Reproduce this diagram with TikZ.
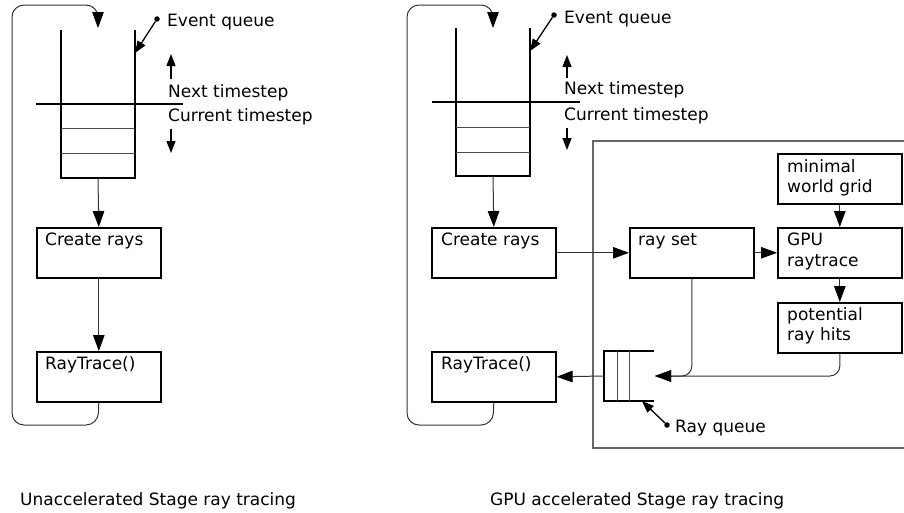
\documentclass[tikz,border=0pt]{standalone}
\usepackage{fontspec}
\setmainfont{DejaVu Sans}
\usetikzlibrary{arrows.meta}
\begin{document}
\begin{tikzpicture}[x=1pt,y=-1pt,
  box/.style={draw=black, line width=1.6pt, minimum width=124pt, minimum height=50pt, inner sep=0pt, anchor=north west},
  txt/.style={anchor=base west, inner sep=0pt, font=\fontsize{17}{20}\selectfont},
  conn/.style={draw=black!80, line width=1pt},
  arr/.style={conn, -{Triangle[length=16pt,width=11.5pt,color=black]}},
  sarr/.style={draw=black, line width=1.3pt, -{Triangle[length=12pt,width=9pt]}},
  dot/.style={circle, fill=black, inner sep=0pt, minimum size=5.5pt},
  qline/.style={draw=black, line width=1.6pt},
  cell/.style={draw=black!70, line width=1pt},
  bigbox/.style={draw=black!60, line width=1.1pt}
]
\useasboundingbox (0,0) rectangle (904,512);

% ---------------- left diagram ----------------
\node[box] (cr1) at (36,227) {};
\node[txt] (cr1t) at (45,245) {Create rays};
\node[box] (rt1) at (36,351) {};
\node[txt] (rt1t) at (45,369) {RayTrace()};

\draw[qline] (61,30) -- (61,178) -- (135,178) -- (135,30);
\draw[qline] (36,104) -- (183,104);
\draw[cell] (61,128) -- (135,128) (61,153) -- (135,153);
\coordinate (q1top) at (98,28);
\coordinate (q1bot) at (98,178);
\coordinate (l1end) at (98,12);

\draw[arr] (q1bot) -- (cr1.north);
\draw[arr] (cr1.south) -- (rt1.north);
\draw[conn, rounded corners=12pt] (rt1.south) -- (98,425) -- (12,425) -- (12,5) -- (98,5) -- (98,18);
\draw[arr] (l1end) -- (q1top);

\node[dot] (eq1d) at (157,19) {};
\coordinate (eq1tip) at (135,53);
\draw[sarr] (eq1d) -- (eq1tip);
\node[txt] (eq1) at (167,26) {Event queue};

\coordinate (up1a) at (171,79);
\coordinate (up1b) at (171,54);
\draw[sarr] (up1a) -- (up1b);
\node[txt] (nx1) at (168,97) {Next timestep};
\node[txt] (cu1) at (168,121) {Current timestep};
\coordinate (dn1a) at (171,129);
\coordinate (dn1b) at (171,153);
\draw[sarr] (dn1a) -- (dn1b);

\node[txt] (cap1) at (20,505) {Unaccelerated Stage ray tracing};

% ---------------- right diagram ----------------
\draw[bigbox] (904,141) -- (593,141) -- (593,448) -- (904,448);

\node[box] (cr2) at (431,227) {};
\node[txt] (cr2t) at (441,245) {Create rays};
\node[box] (rt2) at (431,351) {};
\node[txt] (rt2t) at (441,369) {RayTrace()};
\node[box] (rs) at (629,227) {};
\node[txt] (rst) at (638,245) {ray set};
\node[box] (gpu) at (777,227) {};
\node[txt] (gput1) at (787,245) {GPU};
\node[txt] (gput2) at (787,266) {raytrace};
\node[box] (mw) at (777,153) {};
\node[txt] (mwt1) at (787,172) {minimal};
\node[txt] (mwt2) at (787,192) {world grid};
\node[box] (prh) at (777,302) {};
\node[txt] (prht1) at (787,320) {potential};
\node[txt] (prht2) at (787,340) {ray hits};

\draw[qline] (456,28) -- (456,176) -- (530,176) -- (530,28);
\draw[qline] (432,102) -- (580,102);
\draw[cell] (456,127) -- (530,127) (456,152) -- (530,152);
\coordinate (q2top) at (493,28);
\coordinate (q2bot) at (493,176);
\coordinate (l2end) at (493,12);

\draw[arr] (q2bot) -- (cr2.north);
\draw[conn, rounded corners=12pt] (rt2.south) -- (493,425) -- (407,425) -- (407,5) -- (493,5) -- (493,18);
\draw[arr] (l2end) -- (q2top);

\node[dot] (eq2d) at (554,15) {};
\coordinate (eq2tip) at (530,51);
\draw[sarr] (eq2d) -- (eq2tip);
\node[txt] (eq2) at (564,23) {Event queue};

\coordinate (up2a) at (567,78);
\coordinate (up2b) at (567,55);
\draw[sarr] (up2a) -- (up2b);
\node[txt] (nx2) at (564,94) {Next timestep};
\node[txt] (cu2) at (564,120) {Current timestep};
\coordinate (dn2a) at (567,128);
\coordinate (dn2b) at (567,150);
\draw[sarr] (dn2a) -- (dn2b);

% ray queue
\draw[qline] (654,351) -- (604,351) -- (604,401) -- (654,401);
\draw[cell] (617,351) -- (617,401) (629,351) -- (629,401);
\coordinate (rqleft) at (604,376);
\coordinate (rqin) at (655,376);

\draw[arr] (cr2.east) -- (rs.west);
\draw[arr] (rs.east) -- (gpu.west);
\draw[arr] (mw.south) -- (gpu.north);
\draw[arr] (gpu.south) -- (prh.north);
\draw[arr] (rqleft) -- (rt2.east);
\draw[arr, rounded corners=10pt] (rs.south) -- (rs.south |- rqin) -- (rqin);
\draw[arr, rounded corners=10pt] (prh.south) -- (prh.south |- rqin) -- (rqin);

\node[dot] (rqd) at (667,425) {};
\coordinate (rqtip) at (642,401);
\draw[sarr] (rqd) -- (rqtip);
\node[txt] (rqt) at (675,432) {Ray queue};

\node[txt] (cap2) at (490,505) {GPU accelerated Stage ray tracing};
\end{tikzpicture}
\end{document}
